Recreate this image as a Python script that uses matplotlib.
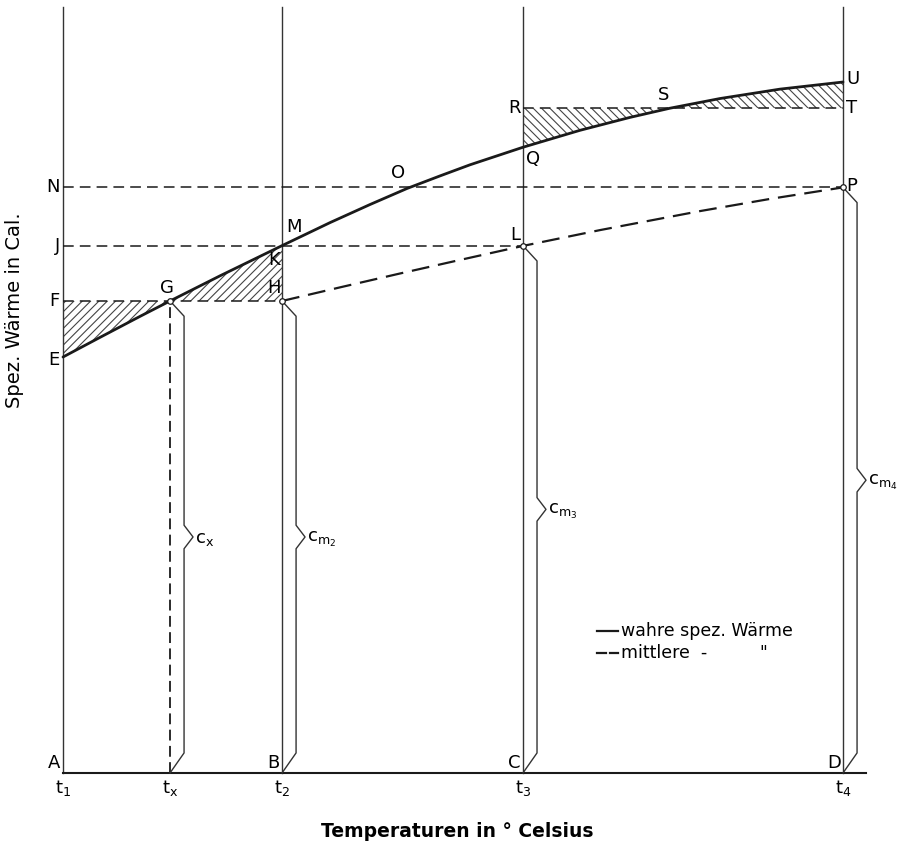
import numpy as np
import matplotlib
matplotlib.use("Agg")
import matplotlib.pyplot as plt

plt.rcParams['font.family'] = ['Liberation Sans Narrow', 'DejaVu Sans']
plt.rcParams['hatch.linewidth'] = 0.8

# temperatures (arbitrary units, t1 = 0 ... t4 = 100)
t1, tx, t2, t3, t4 = 0.0, 13.72, 28.08, 58.97, 100.0

# true specific heat (solid curve E-G-K-O-Q-S-U)
true_t = [0.0, 4.74, 9.87, 13.72, 20.13, 28.08, 34.23, 39.36, 44.10, 48.33,
          52.18, 58.97, 66.28, 72.69, 77.82, 84.23, 91.92, 100.0]
true_c = [60.20, 63.04, 66.08, 68.31, 71.95, 76.32, 79.65, 82.27, 84.59, 86.41,
          88.02, 90.56, 93.01, 94.88, 96.21, 97.61, 98.97, 100.0]

# mean specific heat (dashed curve H-L-P)
mean_t = [28.08, 35.51, 43.21, 50.90, 58.97, 68.85, 81.67, 90.64, 100.0]
mean_c = [68.31, 70.28, 72.29, 74.25, 76.28, 78.57, 81.32, 83.08, 84.75]

# horizontal levels
c_F = 68.31  # F-G-H
c_J = 76.3   # J-K-L
c_N = 84.75  # N-O-P
c_R = 96.21  # R-S-T

fig = plt.figure(figsize=(9.03, 8.57), dpi=100)
ax = fig.add_axes([0, 0, 1, 1])
ax.set_xlim(-8.077, 107.69)
ax.set_ylim(-12.16, 111.87)
ax.axis('off')

lc = '#1a1a1a'
dash = (0, (7, 4))

# vertical lines
for t in [t1, t2, t3, t4]:
    ax.plot([t, t], [0, 110.9], color='#333333', lw=1.0)
ax.plot([tx, tx], [0, c_F], color=lc, lw=1.3, linestyle=(0, (6, 3)))
# base line
ax.plot([t1, 102.9], [0, 0], color=lc, lw=1.5)

# horizontal dashed levels
ax.plot([t1, t2], [c_F, c_F], color=lc, lw=1.1, linestyle=dash)
ax.plot([t1, t3], [c_J, c_J], color=lc, lw=1.1, linestyle=dash)
ax.plot([t1, t4], [c_N, c_N], color=lc, lw=1.1, linestyle=dash)
ax.plot([t3, t4], [c_R, c_R], color=lc, lw=1.1, linestyle=dash)

tt = np.array(true_t)
cc = np.array(true_c)
# hatched areas
ax.fill_between(tt[0:4], cc[0:4], c_F, facecolor='none', edgecolor='#444444', hatch='////', lw=0)
ax.fill_between(tt[3:6], cc[3:6], c_F, facecolor='none', edgecolor='#444444', hatch='////', lw=0)
ax.fill_between(tt[11:15], cc[11:15], c_R, facecolor='none', edgecolor='#444444', hatch='\\\\\\\\', lw=0)
ax.fill_between(tt[14:18], cc[14:18], c_R, facecolor='none', edgecolor='#444444', hatch='\\\\\\\\', lw=0)

# curves
ax.plot(true_t, true_c, color=lc, lw=2.0, solid_joinstyle='round', solid_capstyle='round')
ax.plot(mean_t, mean_c, color=lc, lw=1.6, linestyle=(0, (8, 4)))

# small circles at construction points
ax.plot([tx, t2, t3, t4], [c_F, c_F, c_J, c_N], 'o', ms=4, mfc='white', mec=lc, mew=0.9, zorder=5)

# braces
def brace(x, top, label):
    dx, tip, dtop, dbot, half = 1.8, 1.15, 2.2, 2.9, 1.7
    mid = top / 2.0
    bx = [x, x + dx, x + dx, x + dx + tip, x + dx, x + dx, x]
    by = [top, top - dtop, mid + half, mid, mid - half, dbot, 0]
    ax.plot(bx, by, color='#333333', lw=1.0)
    ax.text(x + dx + tip + 0.3, mid - 0.3, label, fontsize=13, ha='left', va='center')

brace(tx, c_F, r'$\mathregular{c_x}$')
brace(t2, c_F, r'$\mathregular{c_{m_2}}$')
brace(t3, c_J, r'$\mathregular{c_{m_3}}$')
brace(t4, c_N, r'$\mathregular{c_{m_4}}$')

fs = 13
# letters at base line
for lab, t in zip(['A', 'B', 'C', 'D'], [t1, t2, t3, t4]):
    ax.text(t - 0.3, 0.2, lab, fontsize=fs, ha='right', va='bottom')
for lab, t in zip(['1', 'x', '2', '3', '4'], [t1, tx, t2, t3, t4]):
    ax.text(t, -0.7, r'$\mathregular{t_%s}$' % lab, fontsize=fs, ha='center', va='top')

# letters at left axis
ax.text(-0.4, true_c[0] - 0.5, 'E', fontsize=fs, ha='right', va='center')
ax.text(-0.4, c_F, 'F', fontsize=fs, ha='right', va='center')
ax.text(-0.4, c_J, 'J', fontsize=fs, ha='right', va='center')
ax.text(-0.4, c_N, 'N', fontsize=fs, ha='right', va='center')

# construction points
ax.text(tx - 0.4, c_F + 0.6, 'G', fontsize=fs, ha='center', va='bottom')
ax.text(t2 - 0.2, c_F + 0.6, 'H', fontsize=fs, ha='right', va='bottom')
ax.text(t2 - 0.2, c_J - 0.8, 'K', fontsize=fs, ha='right', va='top')
ax.text(t2 + 0.5, c_J + 1.4, 'M', fontsize=fs, ha='left', va='bottom')
ax.text(t3 - 0.3, c_J + 0.2, 'L', fontsize=fs, ha='right', va='bottom')
ax.text(43.0, c_N + 0.8, 'O', fontsize=fs, ha='center', va='bottom')
ax.text(t3 + 0.4, true_c[11] - 0.4, 'Q', fontsize=fs, ha='left', va='top')
ax.text(t3 - 0.3, c_R, 'R', fontsize=fs, ha='right', va='center')
ax.text(77.0, c_R + 0.6, 'S', fontsize=fs, ha='center', va='bottom')
ax.text(t4 + 0.4, c_R, 'T', fontsize=fs, ha='left', va='center')
ax.text(t4 + 0.4, true_c[-1] + 0.5, 'U', fontsize=fs, ha='left', va='center')
ax.text(t4 + 0.4, c_N + 0.2, 'P', fontsize=fs, ha='left', va='center')

# legend drawn by hand
ax.plot([68.5, 71.2], [20.5, 20.5], color=lc, lw=1.6)
ax.plot([68.5, 69.6], [17.3, 17.3], color=lc, lw=1.6)
ax.plot([70.1, 71.2], [17.3, 17.3], color=lc, lw=1.6)
ax.text(71.6, 20.5, 'wahre spez. Wärme', fontsize=12.5, ha='left', va='center')
ax.text(71.6, 17.3, 'mittlere  -', fontsize=12.5, ha='left', va='center')
ax.text(89.8, 17.3, '"', fontsize=12, ha='center', va='center')

# axis titles
ax.text(-6.2, 67.0, 'Spez. Wärme in Cal.', fontsize=14, rotation=90, ha='center', va='center')
ax.text(50.5, -8.4, 'Temperaturen in ° Celsius', fontsize=13.5, fontweight='bold', ha='center', va='center')

fig.savefig('out.png', dpi=100, facecolor='white')
